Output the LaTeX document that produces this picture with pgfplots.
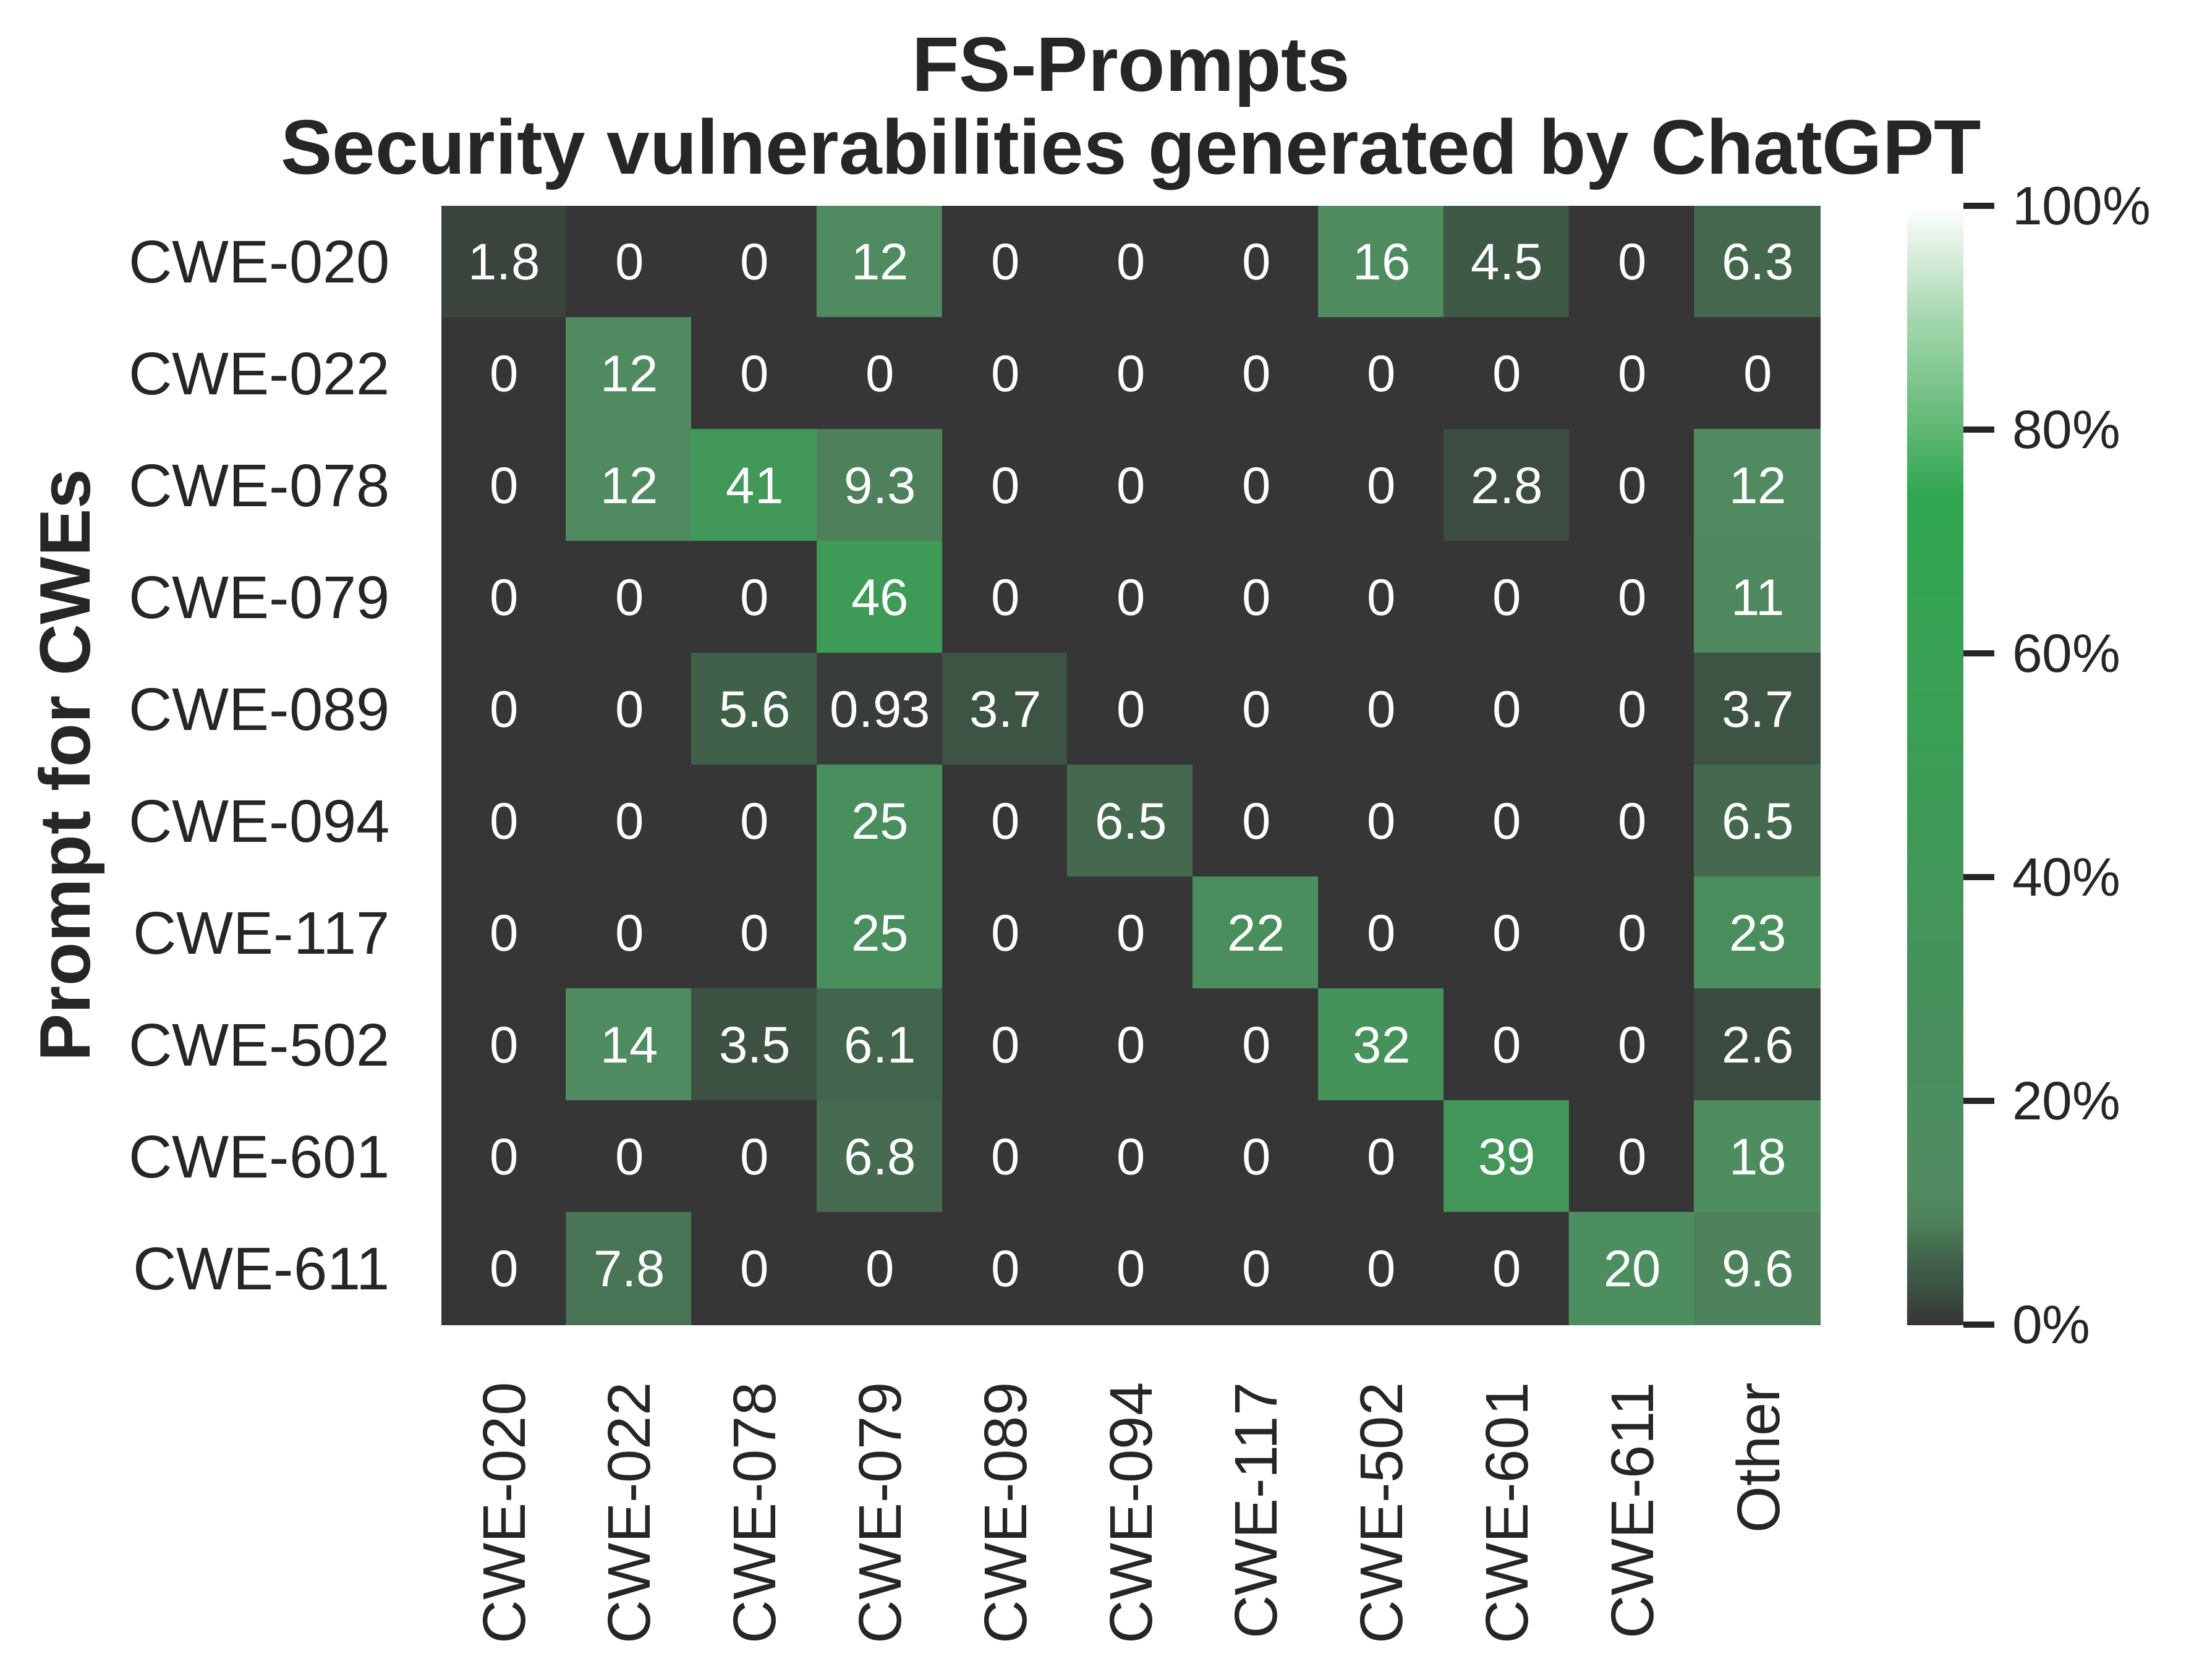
\documentclass[border=0pt]{standalone}
\usepackage{fontspec}
\setmainfont{Liberation Sans}
\usepackage{pgfplots}
\usepackage{pgfplotstable}
\pgfplotsset{compat=1.18}
\usetikzlibrary{calc}
\definecolor{txt}{HTML}{262626}

\pgfplotsset{
  /pgf/number format/assume math mode=true,
  colormap={cwe}{
    rgb255(0pt)=(54,54,54) rgb255(1pt)=(56,61,57) rgb255(2pt)=(58,70,61)
    rgb255(3pt)=(60,78,65) rgb255(4pt)=(62,86,69) rgb255(5.6pt)=(65,96,74)
    rgb255(6.5pt)=(69,105,79) rgb255(9.5pt)=(78,130,92) rgb255(12pt)=(80,138,96)
    rgb255(18pt)=(77,141,95) rgb255(25pt)=(73,143,94) rgb255(32pt)=(69,146,91)
    rgb255(40pt)=(66,151,90) rgb255(46pt)=(61,155,87) rgb255(60pt)=(56,161,83)
    rgb255(74pt)=(46,166,79) rgb255(80pt)=(95,183,115) rgb255(90pt)=(165,215,175)
    rgb255(100pt)=(255,255,255)
  },
}

% rows: prompt CWE (y), columns: detected CWE (x)
\pgfplotstableread{
x y v
0 0 1.8
1 0 0
2 0 0
3 0 12
4 0 0
5 0 0
6 0 0
7 0 16
8 0 4.5
9 0 0
10 0 6.3
0 1 0
1 1 12
2 1 0
3 1 0
4 1 0
5 1 0
6 1 0
7 1 0
8 1 0
9 1 0
10 1 0
0 2 0
1 2 12
2 2 41
3 2 9.3
4 2 0
5 2 0
6 2 0
7 2 0
8 2 2.8
9 2 0
10 2 12
0 3 0
1 3 0
2 3 0
3 3 46
4 3 0
5 3 0
6 3 0
7 3 0
8 3 0
9 3 0
10 3 11
0 4 0
1 4 0
2 4 5.6
3 4 0.93
4 4 3.7
5 4 0
6 4 0
7 4 0
8 4 0
9 4 0
10 4 3.7
0 5 0
1 5 0
2 5 0
3 5 25
4 5 0
5 5 6.5
6 5 0
7 5 0
8 5 0
9 5 0
10 5 6.5
0 6 0
1 6 0
2 6 0
3 6 25
4 6 0
5 6 0
6 6 22
7 6 0
8 6 0
9 6 0
10 6 23
0 7 0
1 7 14
2 7 3.5
3 7 6.1
4 7 0
5 7 0
6 7 0
7 7 32
8 7 0
9 7 0
10 7 2.6
0 8 0
1 8 0
2 8 0
3 8 6.8
4 8 0
5 8 0
6 8 0
7 8 0
8 8 39
9 8 0
10 8 18
0 9 0
1 9 7.8
2 9 0
3 9 0
4 9 0
5 9 0
6 9 0
7 9 0
8 9 0
9 9 20
10 9 9.6
}\cells

\begin{document}
\begin{tikzpicture}
\begin{axis}[
    name=ax,
    scale only axis,
    width=267.7pt, height=217.2pt,
    colormap name=cwe,
    point meta min=0, point meta max=100,
    xmin=-0.5, xmax=10.5, ymin=-0.5, ymax=9.5,
    y dir=reverse,
    axis line style={draw=none},
    major tick length=0pt,
    xtick={0,...,10},
    xticklabels={CWE-020,CWE-022,CWE-078,CWE-079,CWE-089,CWE-094,CWE-117,CWE-502,CWE-601,CWE-611,Other},
    ytick={0,...,9},
    yticklabels={CWE-020,CWE-022,CWE-078,CWE-079,CWE-089,CWE-094,CWE-117,CWE-502,CWE-601,CWE-611},
    xticklabel style={yshift=-11pt, rotate=90, anchor=east, inner sep=0pt,
      font=\fontsize{11.7}{14}\selectfont, text=txt},
    yticklabel style={anchor=east, inner sep=0pt, xshift=-9.8pt,
      font=\fontsize{11.7}{14}\selectfont, text=txt},
    title={FS-Prompts\\Security vulnerabilities generated by ChatGPT},
    every axis title/.style={at={(0.5,1)}, anchor=south, yshift=2.9pt,
      inner sep=0pt, align=center, text=txt,
      font=\bfseries\fontsize{15}{16}\selectfont},
    ylabel={Prompt for CWEs},
    every axis y label/.style={at={(axis description cs:-0.2548,0.5)},
      rotate=90, anchor=base, inner sep=0pt, text=txt,
      font=\bfseries\fontsize{13.9}{16}\selectfont},
    colorbar,
    colorbar shift/.style={xshift=16.8pt},
    colorbar style={
      at={(parent axis.north east)}, anchor=north west,
      width=10.9pt,
      ytick={0,20,40,60,80,100},
      yticklabel={\pgfmathprintnumber{\tick}\%},
      yticklabel style={font=\fontsize{10.5}{12}\selectfont, text=txt},
      axis line style={draw=none},
      major tick length=6pt,
      tick align=outside,
      ytick pos=right,
      tick style={draw=txt, line width=1.2pt},
    },
]
\addplot[matrix plot*, mesh/cols=11, point meta=explicit]
  table[x=x, y=y, meta=v] {\cells};
\addplot[only marks, mark=*, mark size=0pt, mark options={draw=none, fill=none},
  point meta=explicit symbolic, nodes near coords,
  every node near coord/.append style={anchor=center, text=white,
    font=\fontsize{10}{12}\selectfont}]
  table[x=x, y=y, meta=v] {\cells};
\end{axis}
\path ($(ax.south west)+(-85.7pt,-68.9pt)$) rectangle ($(ax.north east)+(72.5pt,40.0pt)$);
\end{tikzpicture}
\end{document}
